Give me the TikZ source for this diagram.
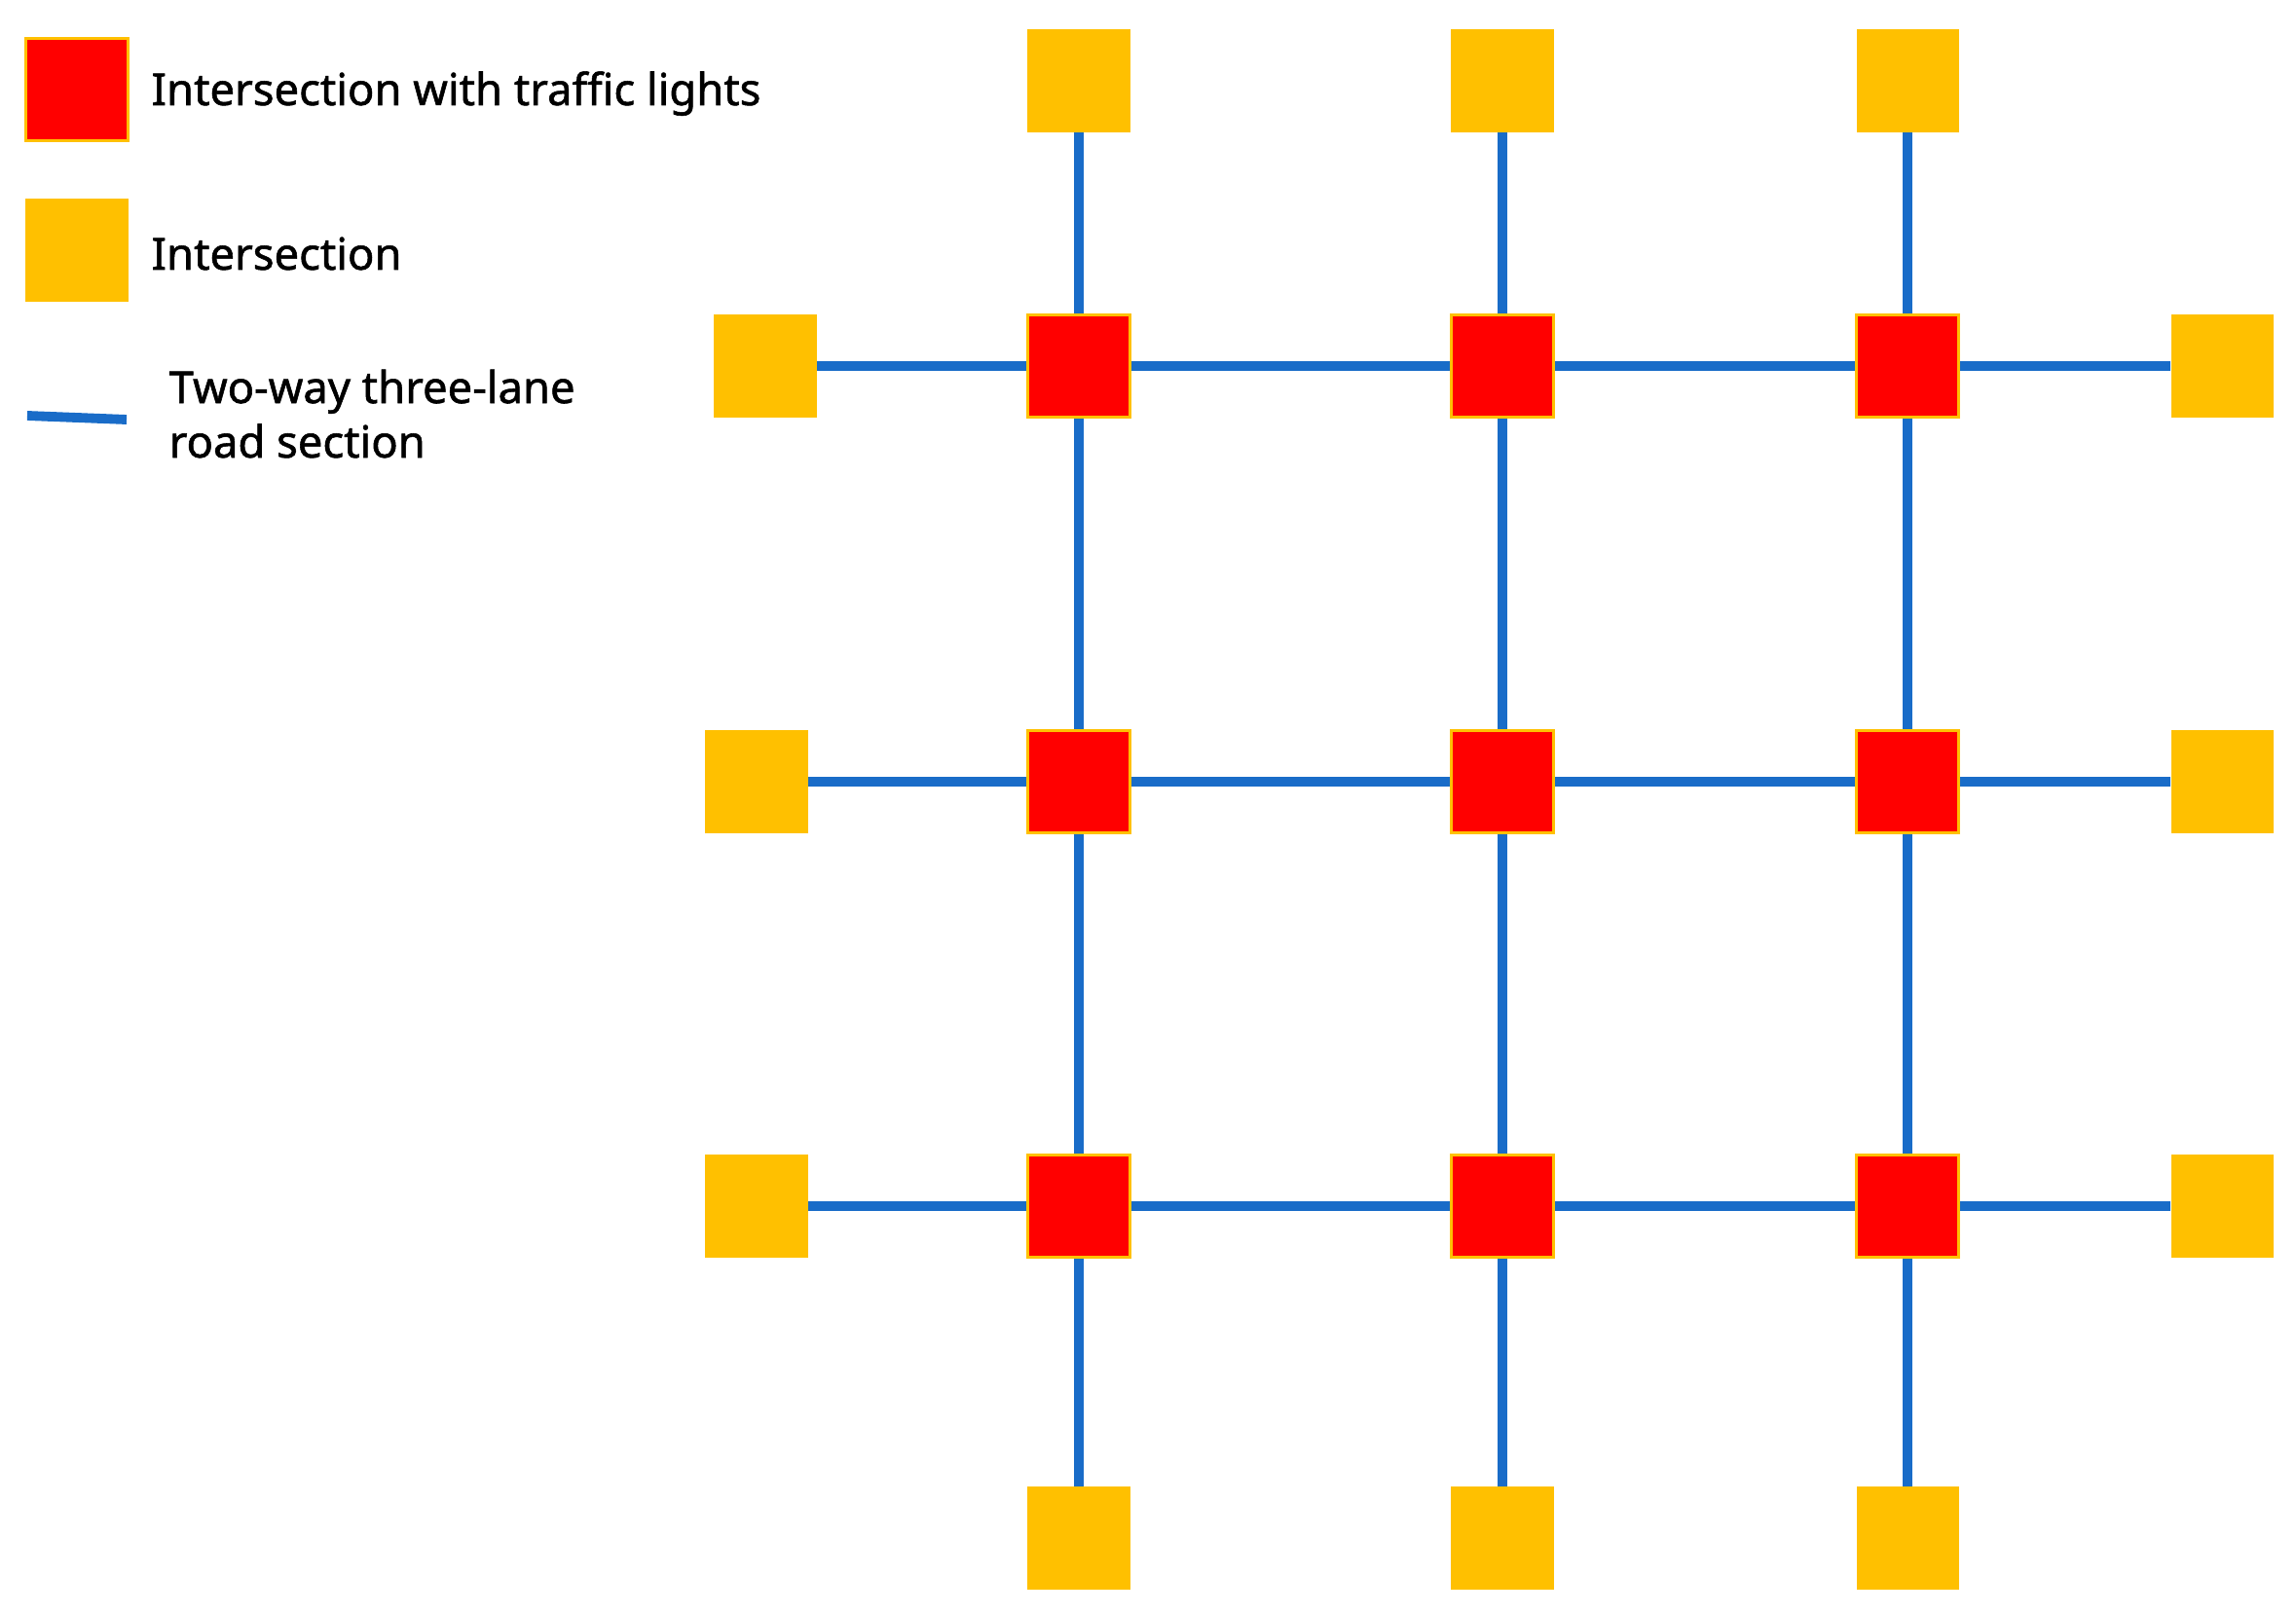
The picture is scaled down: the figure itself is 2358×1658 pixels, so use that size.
\documentclass[tikz,border=0pt]{standalone}
\usepackage{fontspec}
\newfontfamily\legfont{Noto Sans}[FakeBold=1.2]
\definecolor{roadblue}{RGB}{25,108,200}
\definecolor{ygold}{RGB}{255,192,0}
\definecolor{tlred}{RGB}{255,0,0}
\begin{document}
\begin{tikzpicture}[x=0.01cm,y=-0.01cm,
  lightbox/.style={rectangle,fill=tlred,draw=ygold,line width=1pt,minimum size=1.05cm,inner sep=0pt},
  plainbox/.style={rectangle,fill=ygold,minimum size=1.05cm,inner sep=0pt},
  road/.style={draw=roadblue,line width=2.8pt},
  legtext/.style={anchor=base west,inner sep=0pt,font=\legfont\fontsize{12.9}{15.9}\selectfont,align=left}]
\useasboundingbox (0,0) rectangle (2358,1658);
% legend
\node[lightbox] (lgred) at (79,92) {};
\node[plainbox] (lgyel) at (79,257) {};
\coordinate (lgl1) at (28,427);
\coordinate (lgl2) at (130,431);
\draw[road] (lgl1) -- (lgl2);
\node[legtext] (t1) at (155,108) {Intersection with traffic lights};
\node[legtext] (t2) at (155,277) {Intersection};
\node[legtext] (t3) at (173,470) {Two-way three-lane\\road section};
% grid: red intersections
\foreach \c/\x in {1/1108,2/1543,3/1959}{
  \foreach \r/\y in {1/376,2/803,3/1239}{
    \node[lightbox] (r\r\c) at (\x,\y) {};
  }
  \node[plainbox] (top\c) at (\x,83) {};
  \node[plainbox] (bot\c) at (\x,1580) {};
}
\node[plainbox] (left1) at (786,376) {};
\node[plainbox] (left2) at (777,803) {};
\node[plainbox] (left3) at (777,1239) {};
\foreach \r/\y in {1/376,2/803,3/1239}{
  \node[plainbox] (right\r) at (2282,\y) {};
}
% roads
\foreach \c in {1,2,3}{
  \draw[road] (top\c) -- (r1\c);
  \draw[road] (r1\c) -- (r2\c);
  \draw[road] (r2\c) -- (r3\c);
  \draw[road] (r3\c) -- (bot\c);
}
\foreach \r in {1,2,3}{
  \draw[road] (left\r) -- (r\r1);
  \draw[road] (r\r1) -- (r\r2);
  \draw[road] (r\r2) -- (r\r3);
  \draw[road] (r\r3) -- (right\r);
}
\end{tikzpicture}
\end{document}
